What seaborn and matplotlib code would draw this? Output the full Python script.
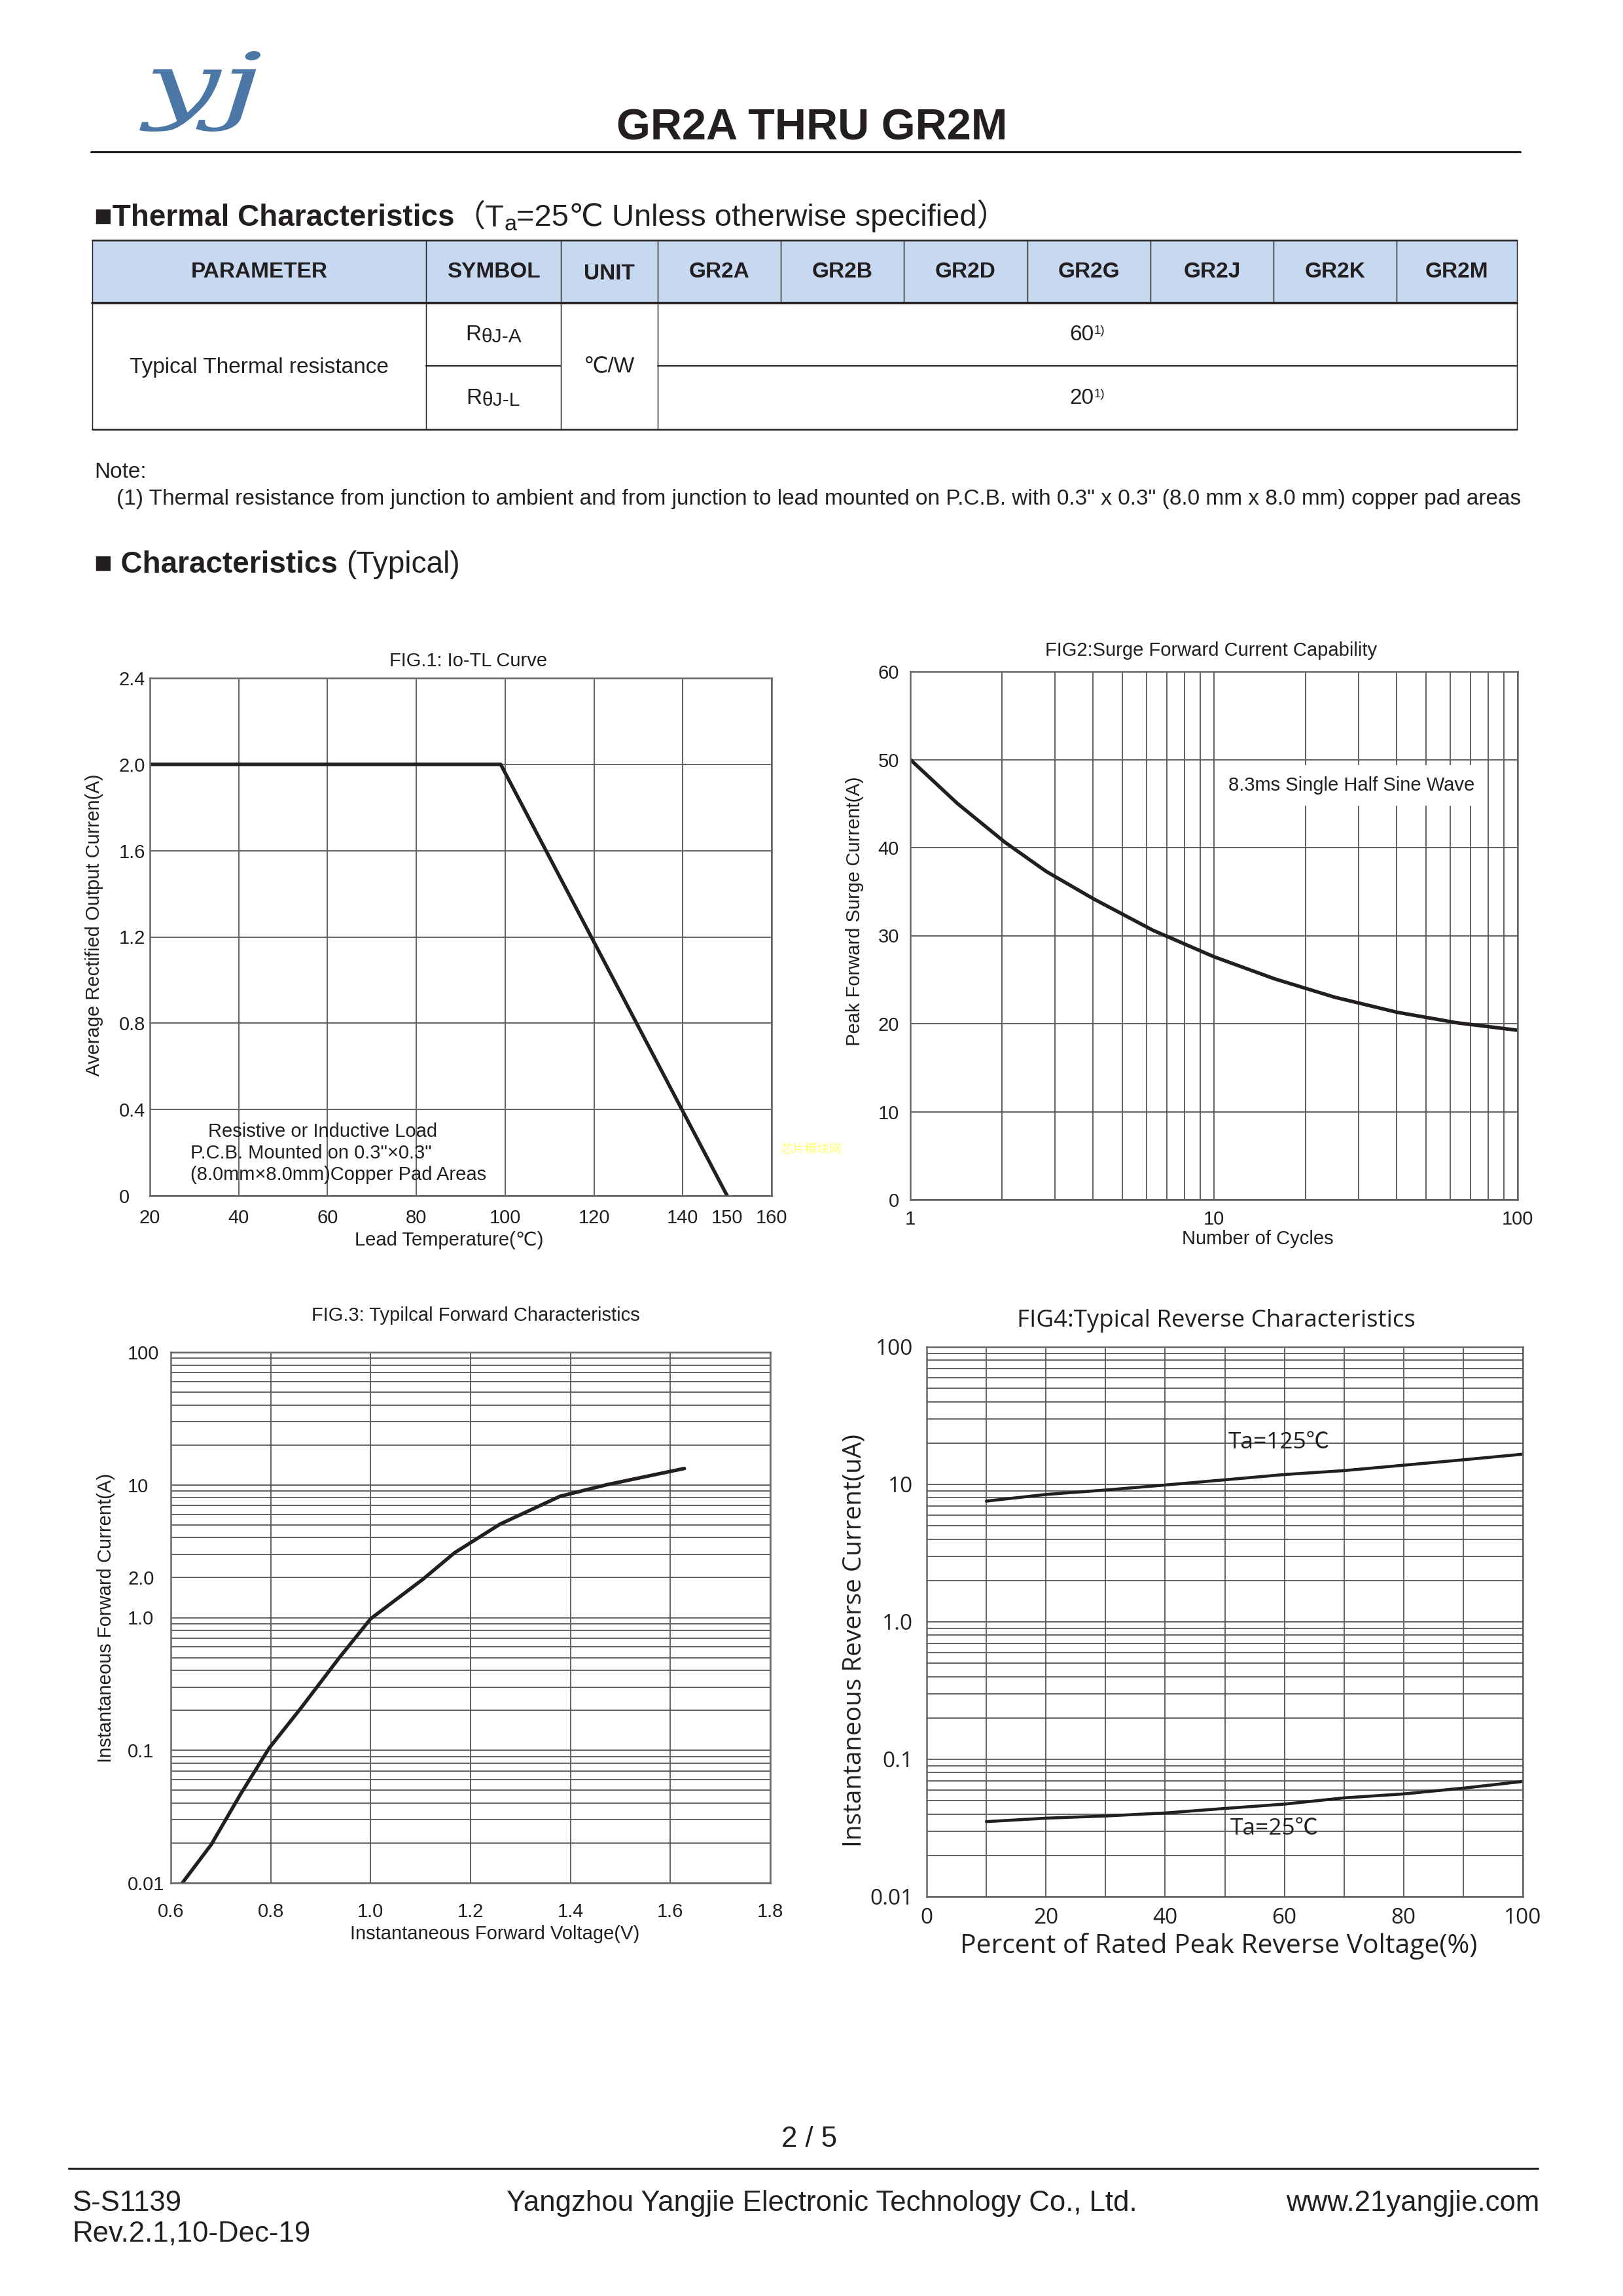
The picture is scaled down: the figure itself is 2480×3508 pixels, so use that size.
import numpy as np
import pandas as pd
import matplotlib.pyplot as plt
import seaborn as sns
from matplotlib.patches import Rectangle, PathPatch
from matplotlib.lines import Line2D
from matplotlib.textpath import TextPath
from matplotlib.font_manager import FontProperties
from matplotlib.transforms import Affine2D, IdentityTransform
from matplotlib.ticker import NullFormatter, LogLocator

sns.set_theme(style="white")
plt.rcParams['font.family'] = ['Liberation Sans', 'DejaVu Sans', 'Noto Sans CJK SC']
plt.rcParams['axes.unicode_minus'] = False

W, H, DPI = 2480, 3508, 300
INK = '#231f20'
GRID = '#5c5c5c'
HEAD_BLUE = '#c6d9f1'
LOGO_BLUE = '#4a77a6'
FIG4_FONT = ['Open Sans', 'Noto Sans CJK SC', 'DejaVu Sans']

# ---- data ----
table_cols = ["PARAMETER", "SYMBOL", "UNIT", "GR2A", "GR2B", "GR2D", "GR2G", "GR2J", "GR2K", "GR2M"]
param_name = "Typical Thermal resistance"
symbol_subs = ["θJ-A", "θJ-L"]
unit_name = "℃/W"
rtheta_vals = ["60", "20"]

# fig1: Io - TL
lead_temp = [20, 99, 150]
io_avg = [2.0, 2.0, 0.0]
fig1_xticks = [20, 40, 60, 80, 100, 120, 140, 160]
fig1_yticks = [0, 0.4, 0.8, 1.2, 1.6, 2.0, 2.4]
fig1_ylabels = ['0', '0.4', '0.8', '1.2', '1.6', '2.0', '2.4']

# fig2: surge current vs cycles
cycles = [1, 1.43, 2.05, 2.8, 4, 6.3, 10, 15.8, 25, 40, 63, 100]
surge = [50.0, 45.0, 40.6, 37.3, 34.2, 30.6, 27.6, 25.1, 23.0, 21.3, 20.1, 19.25]

# fig3: forward characteristics
vf = [0.623, 0.681, 0.74, 0.797, 0.86, 0.937, 1.0, 1.105, 1.168, 1.259, 1.379, 1.471, 1.628]
i_f = [0.01, 0.0195, 0.047, 0.104, 0.207, 0.497, 0.98, 1.95, 3.08, 5.06, 8.2, 10.0, 13.3]
fig3_yticks = [0.01, 0.1, 1, 2, 10, 100]
fig3_ylabels = ['0.01', '0.1', '1.0', '2.0', '10', '100']
fig3_xticks = [0.6, 0.8, 1.0, 1.2, 1.4, 1.6, 1.8]

# fig4: reverse characteristics
pct = [10, 20, 30, 40, 50, 60, 70, 80, 90, 100]
ir_125 = [7.56, 8.45, 9.1, 9.9, 10.8, 11.8, 12.6, 13.8, 15.1, 16.6]
ir_25 = [0.0352, 0.0373, 0.0387, 0.0407, 0.0439, 0.0472, 0.0524, 0.056, 0.0617, 0.069]
fig4_yticks = [0.01, 0.1, 1, 10, 100]
fig4_ylabels = ['0.01', '0.1', '1.0', '10', '100']

fig = plt.figure(figsize=(W / DPI, H / DPI), dpi=DPI)
fig.patch.set_facecolor('white')


def fx(px):
    return px / W


def fy(py):
    return 1 - py / H


def page_text(x, y, s, **kw):
    kw.setdefault('va', 'baseline')
    kw.setdefault('color', INK)
    return fig.text(fx(x), fy(y), s, **kw)


def seq_text(parts, x, y, ha='left'):
    # parts placed one after the other on one baseline
    r = fig.canvas.get_renderer()
    texts, widths = [], []
    for s, kw in parts:
        kw = dict(kw)
        dy = kw.pop('dy', 0)
        t = fig.text(0, fy(y + dy), s, va='baseline', ha='left', color=INK, **kw)
        texts.append(t)
        widths.append(t.get_window_extent(renderer=r).width)
    x0 = x - sum(widths) / 2 if ha == 'center' else x
    for t, w in zip(texts, widths):
        t.set_x(fx(x0))
        x0 += w


def hline(y, x0, x1, lw=0.5, color=INK):
    fig.add_artist(Line2D([fx(x0), fx(x1)], [fy(y), fy(y)], lw=lw, color=color))


def vline(x, y0, y1, lw=0.35, color=INK):
    fig.add_artist(Line2D([fx(x), fx(x)], [fy(y0), fy(y1)], lw=lw, color=color))


# ---- page header ----
# logo: glyph outline squeezed into its box
logo = TextPath((0, 0), "yj", size=1, prop=FontProperties(family='DejaVu Serif', style='italic'))
ext = logo.get_extents()
lx0, ly0, lx1, ly1 = 213, 78, 398, 201
logo_tr = (Affine2D().translate(-ext.x0, -ext.y0)
           .scale((lx1 - lx0) / ext.width, (ly1 - ly0) / ext.height)
           .translate(lx0, H - ly1))
fig.add_artist(PathPatch(logo_tr.transform_path(logo), facecolor=LOGO_BLUE, edgecolor='none',
                         transform=IdentityTransform()))

page_text(1241, 213, "GR2A THRU GR2M", fontsize=16, weight='bold', ha='center')
hline(232, 139, 2323, lw=0.75)

# ---- thermal table ----
seq_text([("■Thermal Characteristics", dict(fontsize=11, weight='bold')),
          ("（T", dict(fontsize=11.3)),
          ("a", dict(fontsize=8.2, dy=7)),
          ("=25℃ Unless otherwise specified）", dict(fontsize=11.3))], 144, 345)

col_edges = [141, 651, 857, 1005, 1193, 1381, 1570, 1758, 1946, 2134, 2318]
row_edges = [367, 463, 559, 656]
fig.add_artist(Rectangle((fx(col_edges[0]), fy(row_edges[1])),
                         (col_edges[-1] - col_edges[0]) / W, (row_edges[1] - row_edges[0]) / H,
                         facecolor=HEAD_BLUE, edgecolor='none', transform=fig.transFigure))
hline(row_edges[0], col_edges[0], col_edges[-1], lw=0.6)
hline(row_edges[1], col_edges[0], col_edges[-1], lw=0.9)
hline(row_edges[2], col_edges[1], col_edges[2], lw=0.5)
hline(row_edges[2], col_edges[3], col_edges[-1], lw=0.5)
hline(row_edges[3], col_edges[0], col_edges[-1], lw=0.6)
for x in col_edges:
    vline(x, row_edges[0], row_edges[1])
for x in [col_edges[0], col_edges[1], col_edges[2], col_edges[3], col_edges[-1]]:
    vline(x, row_edges[1], row_edges[3])

for i, name in enumerate(table_cols):
    cx = (col_edges[i] + col_edges[i + 1]) / 2
    page_text(cx, 427 if name == "UNIT" else 424, name, fontsize=8, weight='bold', ha='center')

page_text((col_edges[0] + col_edges[1]) / 2, 570, param_name, fontsize=8, ha='center')
page_text((col_edges[2] + col_edges[3]) / 2, 569, unit_name, fontsize=8, ha='center')
sym_cx = (col_edges[1] + col_edges[2]) / 2
val_cx = (col_edges[3] + col_edges[-1]) / 2
for k, base in enumerate([520, 617]):
    seq_text([("R", dict(fontsize=8)), (symbol_subs[k], dict(fontsize=7.2, dy=3))], sym_cx, base, ha='center')
    seq_text([(rtheta_vals[k], dict(fontsize=8)), ("1)", dict(fontsize=4.5, dy=-10))], val_cx, base, ha='center')

page_text(144, 730, "Note:", fontsize=8)
page_text(178, 771, "(1) Thermal resistance from junction to ambient and from junction to lead mounted on "
          "P.C.B. with 0.3\" x 0.3\" (8.0 mm x 8.0 mm) copper pad areas", fontsize=8)

seq_text([("■ Characteristics ", dict(fontsize=11, weight='bold')),
          ("(Typical)", dict(fontsize=11))], 144, 875)


# ---- charts ----
def page_axes(box):
    l, t, r, b = box
    ax = fig.add_axes([fx(l), fy(b), (r - l) / W, (b - t) / H])
    ax.set_facecolor('white')
    for s in ax.spines.values():
        s.set_visible(True)
        s.set_color('#666666')
        s.set_linewidth(0.6)
    return ax


def frac(box, px, py):
    l, t, r, b = box
    return (px - l) / (r - l), (b - py) / (b - t)


def labels(ax, box, title, tpos, xl, xpos, yl, ypos, size=7, family=None, tsize=None, xsize=None, ysize=None):
    extra = {} if family is None else {'family': family}
    ax.text(*frac(box, *tpos), title, transform=ax.transAxes, ha='center', va='center',
            fontsize=tsize or size, color=INK, **extra)
    ax.set_xlabel(xl, fontsize=xsize or size, color=INK, **extra)
    ax.xaxis.set_label_coords(*frac(box, *xpos))
    ax.xaxis.label.set_va('center')
    ax.set_ylabel(yl, fontsize=ysize or size, color=INK, **extra)
    ax.yaxis.set_label_coords(*frac(box, *ypos))
    ax.yaxis.label.set_va('center')


# FIG.1
box1 = (229, 1036, 1179, 1827)
ax1 = page_axes(box1)
sns.lineplot(x=lead_temp, y=io_avg, ax=ax1, color=INK, linewidth=1.3)
ax1.set_xlim(20, 160)
ax1.set_ylim(0, 2.4)
ax1.set_xticks(fig1_xticks)
ax1.set_xticklabels([str(v) for v in fig1_xticks])
ax1.set_xticks([150], minor=True)
ax1.set_xticklabels(['150'], minor=True)
ax1.set_yticks(fig1_yticks)
ax1.set_yticklabels(fig1_ylabels, ha='left')
ax1.grid(True, which='major', color=GRID, lw=0.45)
ax1.tick_params(which='both', length=0, labelsize=7, labelcolor=INK)
ax1.tick_params(axis='y', pad=11.3)
ax1.tick_params(axis='x', which='both', pad=4.7)
labels(ax1, box1, "FIG.1: Io-TL Curve", (716, 1010), "Lead Temperature(℃)", (686, 1895),
       "Average Rectified Output Curren(A)", (144, 1413))
ax1.text(*frac(box1, 318, 1729), "Resistive or Inductive Load", transform=ax1.transAxes,
         fontsize=7, va='center', color=INK)
ax1.text(*frac(box1, 291, 1762), "P.C.B. Mounted on 0.3\"×0.3\"", transform=ax1.transAxes,
         fontsize=7, va='center', color=INK)
ax1.text(*frac(box1, 291, 1795), "(8.0mm×8.0mm)Copper Pad Areas", transform=ax1.transAxes,
         fontsize=7, va='center', color=INK)
page_text(1192, 1762, "芯片模块网", fontsize=4.5, color='#ffff70', family='Noto Sans CJK SC')

# FIG2
box2 = (1391, 1026, 2319, 1833)
ax2 = page_axes(box2)
ax2.set_xscale('log')
sns.lineplot(x=cycles, y=surge, ax=ax2, color=INK, linewidth=1.3)
ax2.set_xlim(1, 100)
ax2.set_ylim(0, 60)
ax2.set_xticks([1, 10, 100])
ax2.set_xticklabels(['1', '10', '100'])
ax2.xaxis.set_minor_locator(LogLocator(base=10, subs=range(2, 10)))
ax2.xaxis.set_minor_formatter(NullFormatter())
ax2.set_yticks(range(0, 61, 10))
ax2.grid(True, which='both', axis='x', color=GRID, lw=0.45)
ax2.grid(True, which='major', axis='y', color=GRID, lw=0.45)
ax2.tick_params(which='both', length=0, labelsize=7, labelcolor=INK)
ax2.tick_params(axis='y', pad=4.1)
ax2.tick_params(axis='x', pad=3.8)
labels(ax2, box2, "FIG2:Surge Forward Current Capability", (1851, 994), "Number of Cycles", (1922, 1893),
       "Peak Forward Surge Current(A)", (1306, 1392))
ax2.text(*frac(box2, 2065, 1200), "8.3ms Single Half Sine Wave", transform=ax2.transAxes,
         fontsize=7, ha='center', va='center', color=INK,
         bbox=dict(facecolor='white', edgecolor='none', pad=4))

# FIG.3
box3 = (261, 2066, 1177, 2877)
ax3 = page_axes(box3)
ax3.set_yscale('log')
sns.lineplot(x=vf, y=i_f, ax=ax3, color=INK, linewidth=1.3)
ax3.set_xlim(0.6, 1.8)
ax3.set_ylim(0.01, 100)
ax3.set_xticks(fig3_xticks)
ax3.set_xticklabels([f"{v:.1f}" for v in fig3_xticks])
ax3.set_yticks(fig3_yticks)
ax3.set_yticklabels(fig3_ylabels, ha='left')
ax3.yaxis.set_minor_locator(LogLocator(base=10, subs=range(2, 10)))
ax3.yaxis.set_minor_formatter(NullFormatter())
ax3.grid(True, which='major', axis='x', color=GRID, lw=0.45)
ax3.grid(True, which='both', axis='y', color=GRID, lw=0.45)
ax3.tick_params(which='both', length=0, labelsize=7, labelcolor=INK)
ax3.tick_params(axis='y', pad=15.8)
ax3.tick_params(axis='x', pad=7.1)
labels(ax3, box3, "FIG.3: Typilcal Forward Characteristics", (727, 2010),
       "Instantaneous Forward Voltage(V)", (756, 2955), "Instantaneous Forward Current(A)", (162, 2472))

# FIG4
box4 = (1416, 2058, 2327, 2898)
ax4 = page_axes(box4)
ax4.set_yscale('log')
sns.lineplot(x=pct, y=ir_125, ax=ax4, color=INK, linewidth=1.1)
sns.lineplot(x=pct, y=ir_25, ax=ax4, color=INK, linewidth=1.1)
ax4.set_xlim(0, 100)
ax4.set_ylim(0.01, 100)
ax4.set_xticks(range(0, 101, 20))
ax4.set_xticklabels([str(v) for v in range(0, 101, 20)], fontfamily=FIG4_FONT)
ax4.set_xticks(range(10, 100, 20), minor=True)
ax4.set_yticks(fig4_yticks)
ax4.set_yticklabels(fig4_ylabels, fontfamily=FIG4_FONT)
ax4.yaxis.set_minor_locator(LogLocator(base=10, subs=range(2, 10)))
ax4.yaxis.set_minor_formatter(NullFormatter())
ax4.grid(True, which='both', color=GRID, lw=0.45)
ax4.tick_params(which='both', length=0, labelsize=8, labelcolor=INK)
ax4.tick_params(axis='y', pad=5)
ax4.tick_params(axis='x', pad=3.8)
labels(ax4, box4, "FIG4:Typical Reverse Characteristics", (1858, 2018),
       "Percent of Rated Peak Reverse Voltage(%)", (1862, 2974),
       "Instantaneous Reverse Current(uA)", (1305, 2506), family=FIG4_FONT,
       tsize=8.8, xsize=9.8, ysize=9.3)
ax4.text(50.6, 20.2, "Ta=125℃", fontsize=8.5, va='center', color=INK, family=FIG4_FONT)
ax4.text(50.9, 0.0313, "Ta=25℃", fontsize=8.5, va='center', color=INK, family=FIG4_FONT)

# ---- footer ----
page_text(1237, 3280, "2 / 5", fontsize=10.5, ha='center')
hline(3313, 105, 2350, lw=0.75)
page_text(110, 3378, "S-S1139", fontsize=10.5)
page_text(110, 3425, "Rev.2.1,10-Dec-19", fontsize=10.5)
page_text(1256, 3378, "Yangzhou Yangjie Electronic Technology Co., Ltd.", fontsize=10.5, ha='center')
page_text(2352, 3378, "www.21yangjie.com", fontsize=10.5, ha='right')

fig.savefig("out.png", dpi=DPI, facecolor='white')
